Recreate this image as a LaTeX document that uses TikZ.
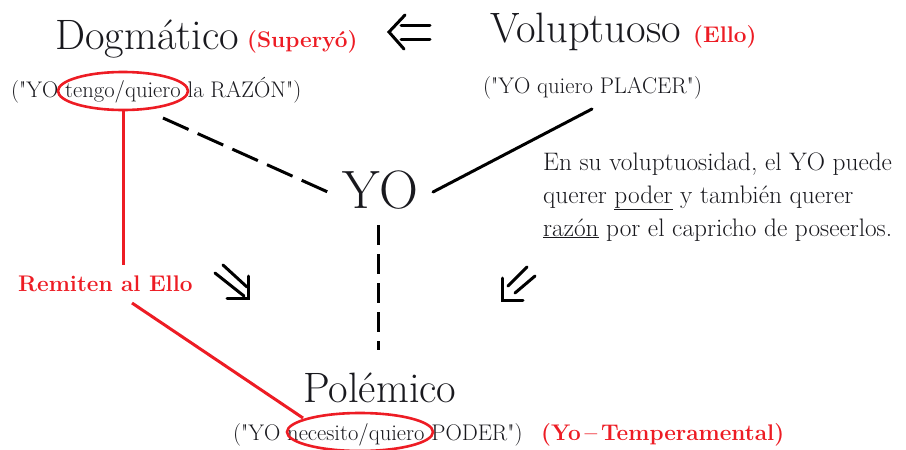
\documentclass[tikz,border=0pt]{standalone}
\usepackage{fontspec}
\setmainfont{Latin Modern Roman}[Ligatures=TeXOff]
\usetikzlibrary{shapes.geometric}
\definecolor{pred}{RGB}{237,28,36}
\definecolor{ink}{RGB}{25,25,30}
\begin{document}
\begin{tikzpicture}[x=1pt,y=-1pt,
  title/.style={anchor=base west,inner sep=0,font=\fontsize{42.5}{44}\selectfont,text=ink},
  quote/.style={anchor=base west,inner sep=0,font=\fontsize{22.6}{26}\selectfont,text=ink},
  redlbl/.style={anchor=base west,inner sep=0,font=\bfseries\fontsize{22.6}{26}\selectfont,text=pred},
  redline/.style={draw=pred,line width=3pt},
  ring/.style={ellipse,draw=pred,line width=2.6pt,inner sep=0},
  dashline/.style={draw=black,line width=3pt,dash pattern=on 28pt off 10pt},
  vdash/.style={draw=black,line width=3pt,dash pattern=on 20pt off 9pt},
  stroke/.style={draw=black,line width=3pt,line cap=round,line join=miter}]
\useasboundingbox (0,0) rectangle (906,450);
% titles
\node[title] (dog) at (55,49) {Dogmático};
\node[redlbl] (sup) at (247,47) {(Superyó)};
\node[title] (vol) at (490,42) {Voluptuoso};
\node[redlbl] (ello) at (693,42) {(Ello)};
\node[quote] (qd) at (11,97) {("YO tengo/quiero la RAZÓN")};
\node[quote] (qv) at (483,93) {("YO quiero PLACER")};
\node[anchor=base west,inner sep=0,font=\fontsize{54}{56}\selectfont,text=ink] (yo) at (342,208) {YO};
\node[anchor=base west,inner sep=0,align=left,font=\fontsize{25.3}{33}\selectfont,text=ink] (txt) at (543,236)
  {En su voluptuosidad, el YO puede\\ querer \underline{poder} y también querer\\ \underline{razón} por el capricho de poseerlos.};
\node[redlbl] (rem) at (18,291) {Remiten al Ello};
\node[title] (pol) at (303,402) {Polémico};
\node[quote] (qp) at (233,440) {("YO necesito/quiero PODER")};
\node[redlbl] (temp) at (541,440) {(Yo\,–\,Temperamental)};
% red rings
\node[ring,minimum width=130pt,minimum height=38pt] (r1) at (123,91) {};
\node[ring,minimum width=146pt,minimum height=38pt] (r2) at (360,432) {};
% red connectors
\coordinate (rtop) at (123,265);
\coordinate (rbot) at (132,303);
\coordinate (rend) at (303,418);
\draw[redline] (r1.south) -- (rtop);
\draw[redline] (rbot) -- (rend);
% black connectors
\coordinate (d1) at (163,118);
\coordinate (d2) at (330,193);
\draw[dashline] (d1) -- (d2);
\coordinate (v1) at (378,225);
\coordinate (v2) at (378,350);
\draw[vdash] (v1) -- (v2);
\coordinate (s1) at (433,192);
\coordinate (s2) at (592,109);
\draw[stroke] (s1) -- (s2);
% double arrow left (top)
\draw[stroke] (401,25) -- (430,25);
\draw[stroke] (401,39) -- (430,39);
\draw[stroke] (405,15) -- (389,32) -- (404,49);
% double arrow down-right
\draw[stroke] (215,273) -- (244,296);
\draw[stroke] (223,265) -- (247,287);
\draw[stroke] (227,298) -- (248,298) -- (248,276);
% double arrow down-left
\draw[stroke] (527,267) -- (508,286);
\draw[stroke] (535,276) -- (515,293);
\draw[stroke] (502,278) -- (502,300) -- (523,300);
\end{tikzpicture}
\end{document}
